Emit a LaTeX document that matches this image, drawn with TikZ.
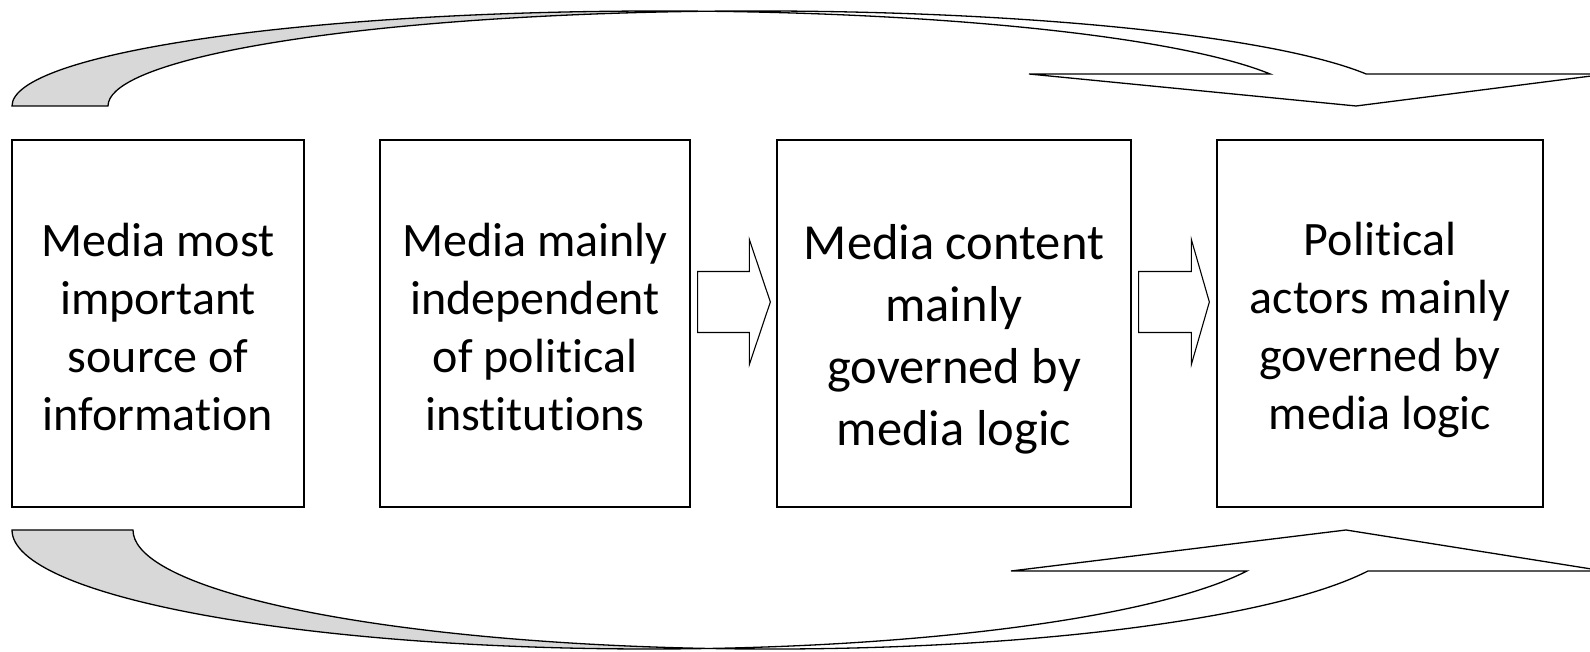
\documentclass[tikz,border=0pt]{standalone}
\usepackage{fontspec}
\setmainfont{Carlito}[Ligatures=NoCommon]
\usetikzlibrary{calc}
\definecolor{backgray}{RGB}{216,216,216}
\begin{document}
\begin{tikzpicture}[x=1pt,y=1pt,
  box/.style={draw, line width=1.3pt, minimum height=367pt, inner sep=0pt},
  boxtext/.style={inner sep=0pt, align=center, font=\fontsize{48}{58}\selectfont},
  outline/.style={draw, line width=1.3pt, line join=miter},
  blockarrow/.style={draw, line width=1.1pt, line join=miter}]
\useasboundingbox (0,0) rectangle (1590,652);
\clip (0,0) rectangle (1590,652);

% the four stages
\node[box, minimum width=292pt] (b1) at (158,328.5) {};
\node[box, minimum width=310pt] (b2) at (535,328.5) {};
\node[box, minimum width=354pt] (b3) at (954,328.5) {};
\node[box, minimum width=326pt] (b4) at (1380,328.5) {};

\node[boxtext] (t1) at ($(b1.center)+(0,-4)$)
  {Media most\\important\\source of\\information};
\node[boxtext] (t2) at ($(b2.center)+(0,-4)$)
  {Media mainly\\independent\\of political\\institutions};
\node[boxtext, font=\fontsize{50.5}{62}\selectfont] (t3) at ($(b3.center)+(0,-16)$)
  {Media content\\mainly\\governed by\\media logic};
\node[boxtext] (t4) at ($(b4.center)+(0,-6)$)
  {Political\\actors mainly\\governed by\\media logic};

% block arrows between stages
\coordinate (a1s) at ($(b2.east)+(7,21.5)$);
\coordinate (a1t) at ($(b3.west)+(-6,21.5)$);
\coordinate (a2s) at ($(b3.east)+(7,21.5)$);
\coordinate (a2t) at ($(b4.west)+(-7,21.5)$);
\draw[blockarrow] ($(a1s)+(0,30.5)$) -- ($(a1t)+(-21,30.5)$) -- ($(a1t)+(-21,62.5)$)
  -- (a1t) -- ($(a1t)+(-21,-62.5)$) -- ($(a1t)+(-21,-30.5)$) -- ($(a1s)+(0,-30.5)$) -- cycle;
\draw[blockarrow] ($(a2s)+(0,30.5)$) -- ($(a2t)+(-18,30.5)$) -- ($(a2t)+(-18,62.5)$)
  -- (a2t) -- ($(a2t)+(-18,-62.5)$) -- ($(a2t)+(-18,-30.5)$) -- ($(a2s)+(0,-30.5)$) -- cycle;

% upper curved arrow: shaded back side
\fill[backgray] (12,546)
  arc[start angle=180, end angle=85.75, x radius=648, y radius=95]
  arc[start angle=94.25, end angle=180, x radius=648, y radius=95] -- cycle;
\draw[outline] (108,546) -- (12,546)
  arc[start angle=180, end angle=19.68, x radius=648, y radius=95]
  -- (1029,578) -- (1356,546) -- (1607,578) -- (1366.14,578)
  arc[start angle=19.68, end angle=180, x radius=648, y radius=95] -- cycle;

% lower curved arrow: shaded back side
\fill[backgray] (12,122)
  arc[start angle=-180, end angle=-84.55, x radius=637, y radius=119]
  arc[start angle=-95.45, end angle=-180, x radius=637, y radius=119] -- cycle;
\draw[outline] (133,122) -- (12,122)
  arc[start angle=-180, end angle=-20.15, x radius=637, y radius=119]
  -- (1011,81) -- (1346,122) -- (1604,81) -- (1368,81)
  arc[start angle=-20.15, end angle=-180, x radius=637, y radius=119] -- cycle;
\end{tikzpicture}
\end{document}
